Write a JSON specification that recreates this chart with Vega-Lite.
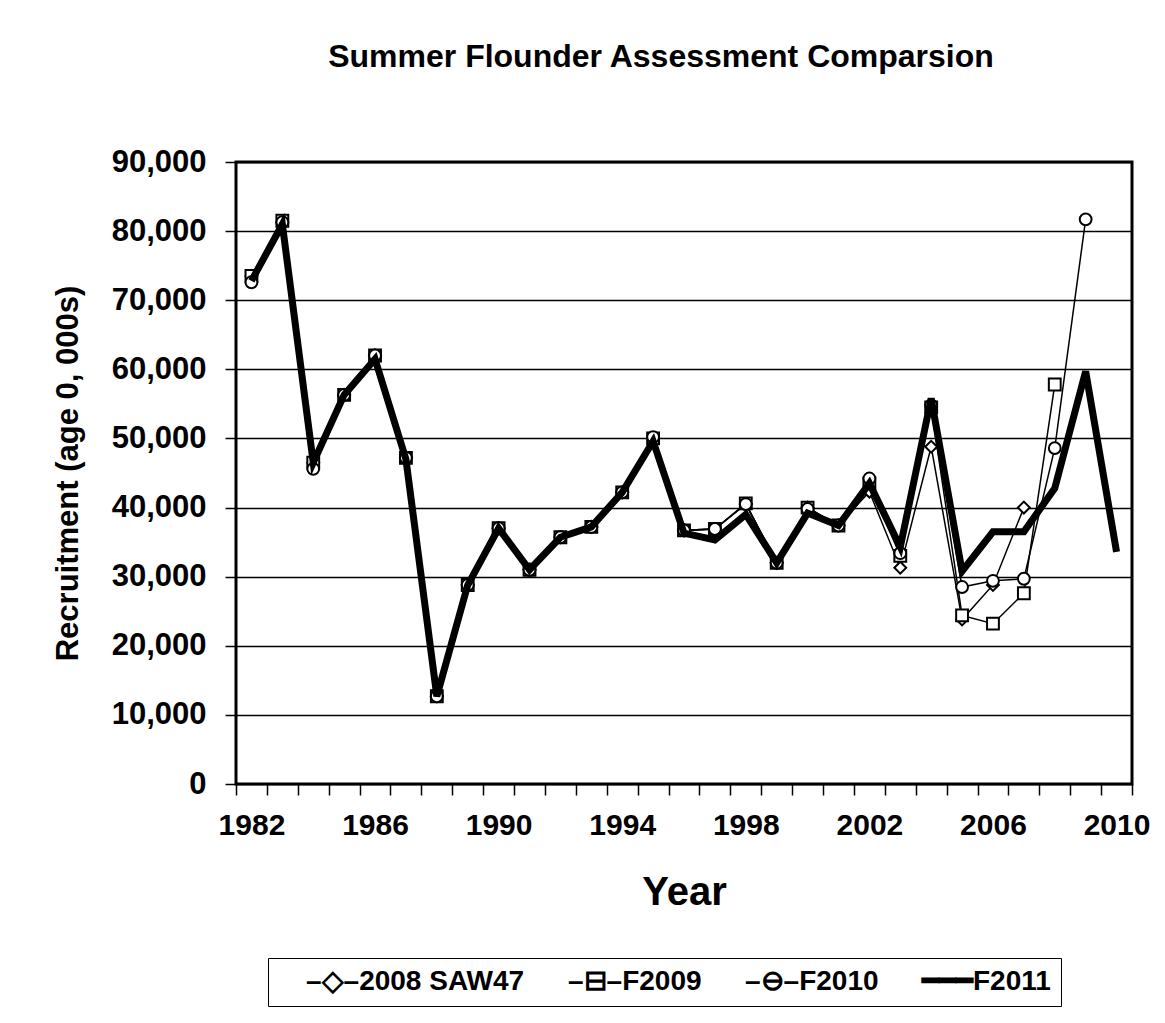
{
  "$schema": "https://vega.github.io/schema/vega-lite/v6.json",
  "width": 896,
  "height": 622,
  "autosize": {"type": "none"},
  "padding": {"left": 236, "top": 162, "right": 33, "bottom": 239},
  "background": "white",
  "title": {
    "text": "Summer Flounder Assessment Comparsion",
    "font": "Liberation Sans",
    "fontSize": 32,
    "fontWeight": "bold",
    "color": "black",
    "anchor": "middle",
    "frame": "group",
    "dx": -23,
    "offset": 72
  },
  "config": {
    "view": {"stroke": "black", "strokeWidth": 3},
    "axis": {
      "labelFont": "Liberation Sans",
      "labelFontWeight": "bold",
      "labelColor": "black",
      "titleFont": "Liberation Sans",
      "titleFontWeight": "bold",
      "titleColor": "black",
      "tickColor": "black",
      "gridColor": "black",
      "domain": false
    }
  },
  "data": {
    "values": [
      {"year": 1982, "series": "2008 SAW47", "value": 73500},
      {"year": 1983, "series": "2008 SAW47", "value": 81300},
      {"year": 1984, "series": "2008 SAW47", "value": 46500},
      {"year": 1985, "series": "2008 SAW47", "value": 56300},
      {"year": 1986, "series": "2008 SAW47", "value": 62000},
      {"year": 1987, "series": "2008 SAW47", "value": 47200},
      {"year": 1988, "series": "2008 SAW47", "value": 12700},
      {"year": 1989, "series": "2008 SAW47", "value": 28800},
      {"year": 1990, "series": "2008 SAW47", "value": 37000},
      {"year": 1991, "series": "2008 SAW47", "value": 31000},
      {"year": 1992, "series": "2008 SAW47", "value": 35700},
      {"year": 1993, "series": "2008 SAW47", "value": 37200},
      {"year": 1994, "series": "2008 SAW47", "value": 42200},
      {"year": 1995, "series": "2008 SAW47", "value": 50000},
      {"year": 1996, "series": "2008 SAW47", "value": 36700},
      {"year": 1997, "series": "2008 SAW47", "value": 36900},
      {"year": 1998, "series": "2008 SAW47", "value": 40500},
      {"year": 1999, "series": "2008 SAW47", "value": 32000},
      {"year": 2000, "series": "2008 SAW47", "value": 40000},
      {"year": 2001, "series": "2008 SAW47", "value": 37400},
      {"year": 2002, "series": "2008 SAW47", "value": 42300},
      {"year": 2003, "series": "2008 SAW47", "value": 31300},
      {"year": 2004, "series": "2008 SAW47", "value": 48800},
      {"year": 2005, "series": "2008 SAW47", "value": 23800},
      {"year": 2006, "series": "2008 SAW47", "value": 28800},
      {"year": 2007, "series": "2008 SAW47", "value": 40000},
      {"year": 1982, "series": "F2009", "value": 73500},
      {"year": 1983, "series": "F2009", "value": 81500},
      {"year": 1984, "series": "F2009", "value": 46500},
      {"year": 1985, "series": "F2009", "value": 56300},
      {"year": 1986, "series": "F2009", "value": 62000},
      {"year": 1987, "series": "F2009", "value": 47200},
      {"year": 1988, "series": "F2009", "value": 12700},
      {"year": 1989, "series": "F2009", "value": 28800},
      {"year": 1990, "series": "F2009", "value": 37000},
      {"year": 1991, "series": "F2009", "value": 31000},
      {"year": 1992, "series": "F2009", "value": 35700},
      {"year": 1993, "series": "F2009", "value": 37200},
      {"year": 1994, "series": "F2009", "value": 42200},
      {"year": 1995, "series": "F2009", "value": 50000},
      {"year": 1996, "series": "F2009", "value": 36700},
      {"year": 1997, "series": "F2009", "value": 36900},
      {"year": 1998, "series": "F2009", "value": 40600},
      {"year": 1999, "series": "F2009", "value": 32000},
      {"year": 2000, "series": "F2009", "value": 40000},
      {"year": 2001, "series": "F2009", "value": 37400},
      {"year": 2002, "series": "F2009", "value": 43500},
      {"year": 2003, "series": "F2009", "value": 33000},
      {"year": 2004, "series": "F2009", "value": 54500},
      {"year": 2005, "series": "F2009", "value": 24400},
      {"year": 2006, "series": "F2009", "value": 23200},
      {"year": 2007, "series": "F2009", "value": 27600},
      {"year": 2008, "series": "F2009", "value": 57800},
      {"year": 1982, "series": "F2010", "value": 72600},
      {"year": 1983, "series": "F2010", "value": 81300},
      {"year": 1984, "series": "F2010", "value": 45600},
      {"year": 1985, "series": "F2010", "value": 56300},
      {"year": 1986, "series": "F2010", "value": 62000},
      {"year": 1987, "series": "F2010", "value": 47200},
      {"year": 1988, "series": "F2010", "value": 12700},
      {"year": 1989, "series": "F2010", "value": 28800},
      {"year": 1990, "series": "F2010", "value": 37000},
      {"year": 1991, "series": "F2010", "value": 31000},
      {"year": 1992, "series": "F2010", "value": 35700},
      {"year": 1993, "series": "F2010", "value": 37200},
      {"year": 1994, "series": "F2010", "value": 42200},
      {"year": 1995, "series": "F2010", "value": 50200},
      {"year": 1996, "series": "F2010", "value": 36700},
      {"year": 1997, "series": "F2010", "value": 36900},
      {"year": 1998, "series": "F2010", "value": 40500},
      {"year": 1999, "series": "F2010", "value": 32000},
      {"year": 2000, "series": "F2010", "value": 39800},
      {"year": 2001, "series": "F2010", "value": 37400},
      {"year": 2002, "series": "F2010", "value": 44200},
      {"year": 2003, "series": "F2010", "value": 33400},
      {"year": 2004, "series": "F2010", "value": 54800},
      {"year": 2005, "series": "F2010", "value": 28500},
      {"year": 2006, "series": "F2010", "value": 29400},
      {"year": 2007, "series": "F2010", "value": 29700},
      {"year": 2008, "series": "F2010", "value": 48600},
      {"year": 2009, "series": "F2010", "value": 81700},
      {"year": 1982, "series": "F2011", "value": 72800},
      {"year": 1983, "series": "F2011", "value": 81000},
      {"year": 1984, "series": "F2011", "value": 46500},
      {"year": 1985, "series": "F2011", "value": 56300},
      {"year": 1986, "series": "F2011", "value": 61500},
      {"year": 1987, "series": "F2011", "value": 47000},
      {"year": 1988, "series": "F2011", "value": 12700},
      {"year": 1989, "series": "F2011", "value": 28800},
      {"year": 1990, "series": "F2011", "value": 37000},
      {"year": 1991, "series": "F2011", "value": 31000},
      {"year": 1992, "series": "F2011", "value": 35700},
      {"year": 1993, "series": "F2011", "value": 37200},
      {"year": 1994, "series": "F2011", "value": 42200},
      {"year": 1995, "series": "F2011", "value": 49600},
      {"year": 1996, "series": "F2011", "value": 36300},
      {"year": 1997, "series": "F2011", "value": 35300},
      {"year": 1998, "series": "F2011", "value": 39000},
      {"year": 1999, "series": "F2011", "value": 32000},
      {"year": 2000, "series": "F2011", "value": 39200},
      {"year": 2001, "series": "F2011", "value": 37400},
      {"year": 2002, "series": "F2011", "value": 43500},
      {"year": 2003, "series": "F2011", "value": 34300},
      {"year": 2004, "series": "F2011", "value": 55800},
      {"year": 2005, "series": "F2011", "value": 30800},
      {"year": 2006, "series": "F2011", "value": 36500},
      {"year": 2007, "series": "F2011", "value": 36500},
      {"year": 2008, "series": "F2011", "value": 42800},
      {"year": 2009, "series": "F2011", "value": 59700},
      {"year": 2010, "series": "F2011", "value": 33600}
    ]
  },
  "encoding": {
    "x": {
      "field": "year",
      "type": "quantitative",
      "scale": {"domain": [1981.5, 2010.5], "nice": false, "zero": false},
      "axis": {
        "values": [1981.5, 1982.5, 1983.5, 1984.5, 1985.5, 1986.5, 1987.5, 1988.5, 1989.5, 1990.5, 1991.5, 1992.5, 1993.5, 1994.5, 1995.5, 1996.5, 1997.5, 1998.5, 1999.5, 2000.5, 2001.5, 2002.5, 2003.5, 2004.5, 2005.5, 2006.5, 2007.5, 2008.5, 2009.5, 2010.5],
        "labelExpr": "(datum.value + 0.5 - 1982) % 4 == 0 && datum.value < 2010 ? format(datum.value + 0.5, 'd') : ''",
        "labelOffset": 15.45,
        "labelOverlap": false,
        "labelFlush": false,
        "labelBound": false,
        "labelFontSize": 30,
        "labelPadding": 15,
        "tickSize": 11,
        "tickWidth": 1.5,
        "grid": false,
        "title": "Year",
        "titleFontSize": 40,
        "titleBaseline": "middle",
        "titleY": 108
      }
    },
    "y": {
      "field": "value",
      "type": "quantitative",
      "scale": {"domain": [0, 90000], "nice": false},
      "axis": {
        "values": [0, 10000, 20000, 30000, 40000, 50000, 60000, 70000, 80000, 90000],
        "format": ",d",
        "labelFontSize": 31,
        "labelPadding": 19,
        "tickSize": 11,
        "tickWidth": 1.5,
        "grid": true,
        "gridWidth": 1.5,
        "title": "Recruitment (age 0, 000s)",
        "titleFontSize": 31,
        "titlePadding": 27
      }
    }
  },
  "layer": [
    {
      "transform": [{"filter": "datum.series != 'F2011'"}],
      "mark": {"type": "line", "stroke": "black", "strokeWidth": 1.5},
      "encoding": {"detail": {"field": "series"}}
    },
    {
      "transform": [{"filter": "datum.series != 'F2011'"}],
      "mark": {"type": "point", "filled": true, "fill": "white", "stroke": "black", "strokeWidth": 2, "opacity": 1, "size": 140},
      "encoding": {
        "shape": {
          "field": "series",
          "type": "nominal",
          "scale": {"domain": ["2008 SAW47", "F2009", "F2010", "F2011"], "range": ["diamond", "square", "circle", "stroke"]},
          "legend": {
            "orient": "none",
            "legendX": 32,
            "legendY": 796,
            "direction": "horizontal",
            "title": null,
            "strokeColor": "black",
            "padding": 10,
            "labelFont": "Liberation Sans",
            "labelFontWeight": "bold",
            "labelFontSize": 28,
            "labelColor": "black",
            "labelLimit": 400,
            "labelOffset": 0,
            "columnPadding": 15,
            "symbolSize": 1,
            "symbolOpacity": 0,
            "labelExpr": "datum.value == '2008 SAW47' ? '–◇–2008 SAW47' : datum.value == 'F2009' ? '–⊟–F2009' : datum.value == 'F2010' ? '–⊖–F2010' : '━━━F2011'"
          }
        }
      }
    },
    {
      "transform": [{"filter": "datum.series == 'F2011'"}],
      "mark": {"type": "line", "stroke": "black", "strokeWidth": 7, "strokeJoin": "miter"},
      "encoding": {}
    }
  ]
}
